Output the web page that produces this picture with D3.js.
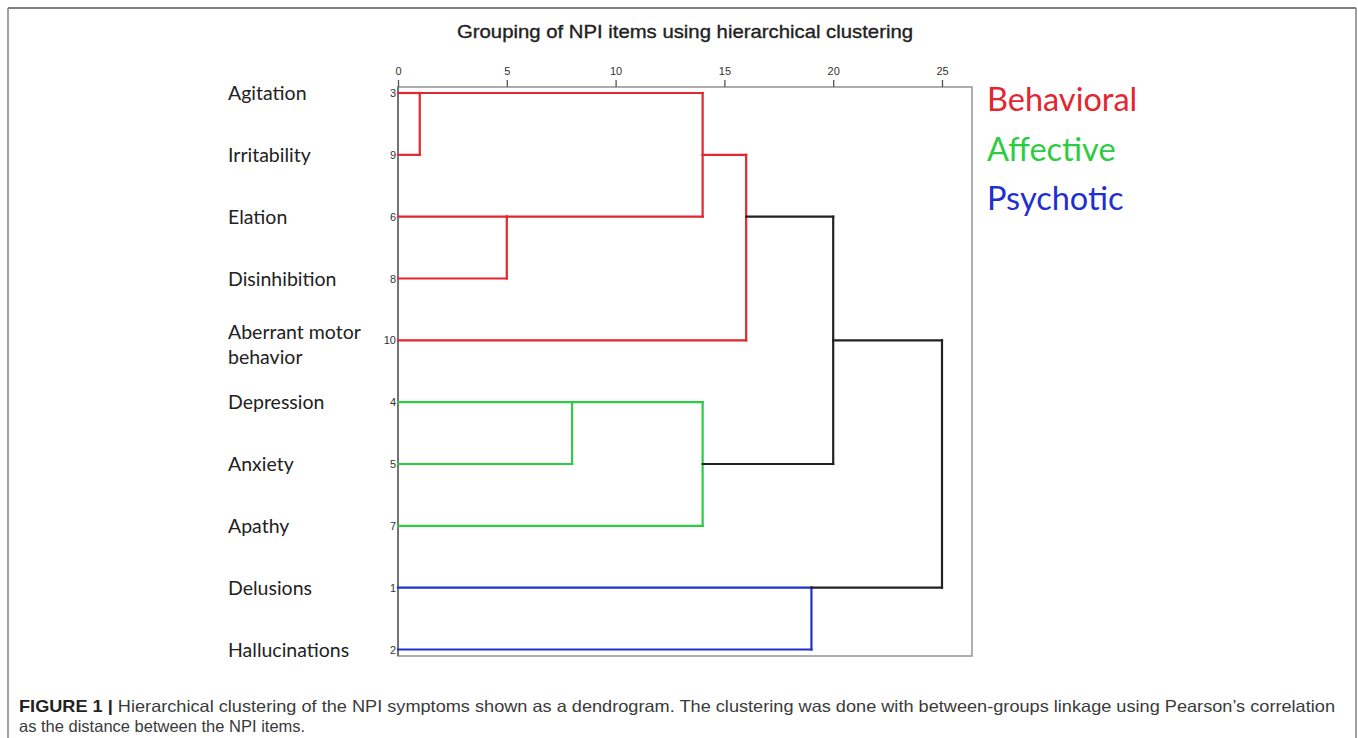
<!DOCTYPE html>
<html><head><meta charset="utf-8">
<script src="https://cdn.jsdelivr.net/npm/d3@7"></script>
<style>
html,body{margin:0;padding:0;background:#fff;}
svg{display:block;}
</style></head>
<body>
<script>
// ---- data ----
const chartTitle = "Grouping of NPI items using hierarchical clustering";
const leafIds = ["3","9","6","8","10","4","5","7","1","2"];
const leafNames = ["Agitation","Irritability","Elation","Disinhibition","Aberrant motor behavior","Depression","Anxiety","Apathy","Delusions","Hallucinations"];
const mergeNames  = ["A","B","C","D","E","F","G","H","R"];
const mergeLeft   = ["3","6","A","C","4","E","D","1","G"];
const mergeRight  = ["9","8","B","10","5","7","F","2","H"];
const mergeHeights= [1,5,14,16,8,14,20,19,25];
const mergeGroups = ["Behavioral","Behavioral","Behavioral","Behavioral","Affective","Affective","none","Psychotic","none"];
const tickValues = [0,5,10,15,20,25];
const groupNames = ["Behavioral","Affective","Psychotic"];
const groupColors = ["#e3262f","#2ecc40","#1f2fd0"];
const captionBold = "FIGURE 1 | ";
const captionLine1 = "Hierarchical clustering of the NPI symptoms shown as a dendrogram. The clustering was done with between-groups linkage using Pearson\u2019s correlation";
const captionLine2 = "as the distance between the NPI items.";

const W = 1358, H = 738;
const svg = d3.select("body").append("svg").attr("width", W).attr("height", H);

// outer frame
svg.append("line").attr("x1",8).attr("x2",1356).attr("y1",8).attr("y2",8).attr("stroke","#555").attr("stroke-width",1.6);
svg.append("line").attr("x1",8).attr("x2",8).attr("y1",8).attr("y2",H).attr("stroke","#888").attr("stroke-width",1.6);
svg.append("line").attr("x1",1356).attr("x2",1356).attr("y1",8).attr("y2",H).attr("stroke","#888").attr("stroke-width",1.6);

// scales
const x = d3.scaleLinear().domain([0,25]).range([398,942]);
const y = d3.scaleLinear().domain([0,9]).range([93,649.5]);
const frameTop = 87, frameBottom = 656, frameRight = 972;

// title
svg.append("text").attr("x",685).attr("y",38).attr("text-anchor","middle")
  .attr("font-family","Liberation Sans, Arial, sans-serif").attr("font-weight","normal")
  .attr("stroke","#222").attr("stroke-width",0.35)
  .attr("font-size",18.5).attr("fill","#222")
  .attr("textLength",456).attr("lengthAdjust","spacingAndGlyphs").text(chartTitle);

// plot frame
svg.append("rect").attr("x",x(0)).attr("y",frameTop).attr("width",frameRight-x(0)).attr("height",frameBottom-frameTop)
  .attr("fill","none").attr("stroke","#999").attr("stroke-width",1.6);
svg.append("line").attr("x1",x(0)).attr("x2",x(0)).attr("y1",frameTop).attr("y2",frameBottom).attr("stroke","#666").attr("stroke-width",1.6);

// axis
const axis = d3.axisTop(x).tickValues(tickValues).tickSize(7).tickPadding(5).tickSizeOuter(0);
const ag = svg.append("g").attr("transform",`translate(0,${frameTop})`).call(axis);
ag.select(".domain").remove();
ag.selectAll(".tick line").attr("stroke","#555").attr("stroke-width",1.3);
ag.selectAll(".tick text").attr("font-family","Liberation Sans, Arial, sans-serif").attr("font-size",11).attr("fill","#333");

// build nodes
const nodes = {};
leafIds.forEach((id,i)=>{ nodes[id] = {pos:i, h:0}; });
const colorOf = g => { const k = groupNames.indexOf(g); return k<0 ? "#222" : groupColors[k]; };
const segs = [];
mergeNames.forEach((nm,i)=>{
  const a = nodes[mergeLeft[i]], b = nodes[mergeRight[i]];
  const h = mergeHeights[i];
  const col = colorOf(mergeGroups[i]);
  segs.push({x1:a.h, x2:h, y1:a.pos, y2:a.pos, c:col});
  segs.push({x1:b.h, x2:h, y1:b.pos, y2:b.pos, c:col});
  segs.push({x1:h, x2:h, y1:a.pos, y2:b.pos, c:col});
  nodes[nm] = {pos: Math.floor((a.pos+b.pos)/2), h:h};
});
svg.append("g").selectAll("line").data(segs).join("line")
  .attr("x1",d=>x(d.x1)).attr("x2",d=>x(d.x2)).attr("y1",d=>y(d.y1)).attr("y2",d=>y(d.y2))
  .attr("stroke",d=>d.c).attr("stroke-width",2.2).attr("stroke-linecap","square");

// leaf numbers
svg.append("g").selectAll("text").data(leafIds).join("text")
  .attr("x",x(0)-2).attr("y",(d,i)=>y(i)+4).attr("text-anchor","end")
  .attr("font-family","Liberation Sans, Arial, sans-serif").attr("font-size",11).attr("fill","#333").text(d=>d);

// leaf names
const nameG = svg.append("g").attr("font-family","Lato, 'Open Sans', sans-serif").attr("font-size",19.5).attr("fill","#222");
leafNames.forEach((n,i)=>{
  if (n === "Aberrant motor behavior") {
    const t = nameG.append("text").attr("x",228).attr("y",y(i)-1);
    t.append("tspan").attr("x",228).text("Aberrant motor");
    t.append("tspan").attr("x",228).attr("dy",25).text("behavior");
  } else {
    nameG.append("text").attr("x",228).attr("y",y(i)+7).text(n);
  }
});

// legend
svg.append("g").selectAll("text").data(groupNames).join("text")
  .attr("x",987).attr("y",(d,i)=>111+i*49.5)
  .attr("font-family","Lato, 'Open Sans', sans-serif").attr("font-size",32.5)
  .attr("fill",(d,i)=>groupColors[i]).text(d=>d);

// caption
const cap = svg.append("g").attr("font-family","Liberation Sans, Arial, sans-serif").attr("font-size",16.5).attr("fill","#3a3a3a");
const t1 = cap.append("text").attr("x",19).attr("y",712).attr("textLength",1316).attr("lengthAdjust","spacingAndGlyphs");
t1.append("tspan").attr("font-weight","bold").attr("fill","#222").text(captionBold);
t1.append("tspan").text(captionLine1);
cap.append("text").attr("x",19).attr("y",732).text(captionLine2);
</script>
</body></html>
